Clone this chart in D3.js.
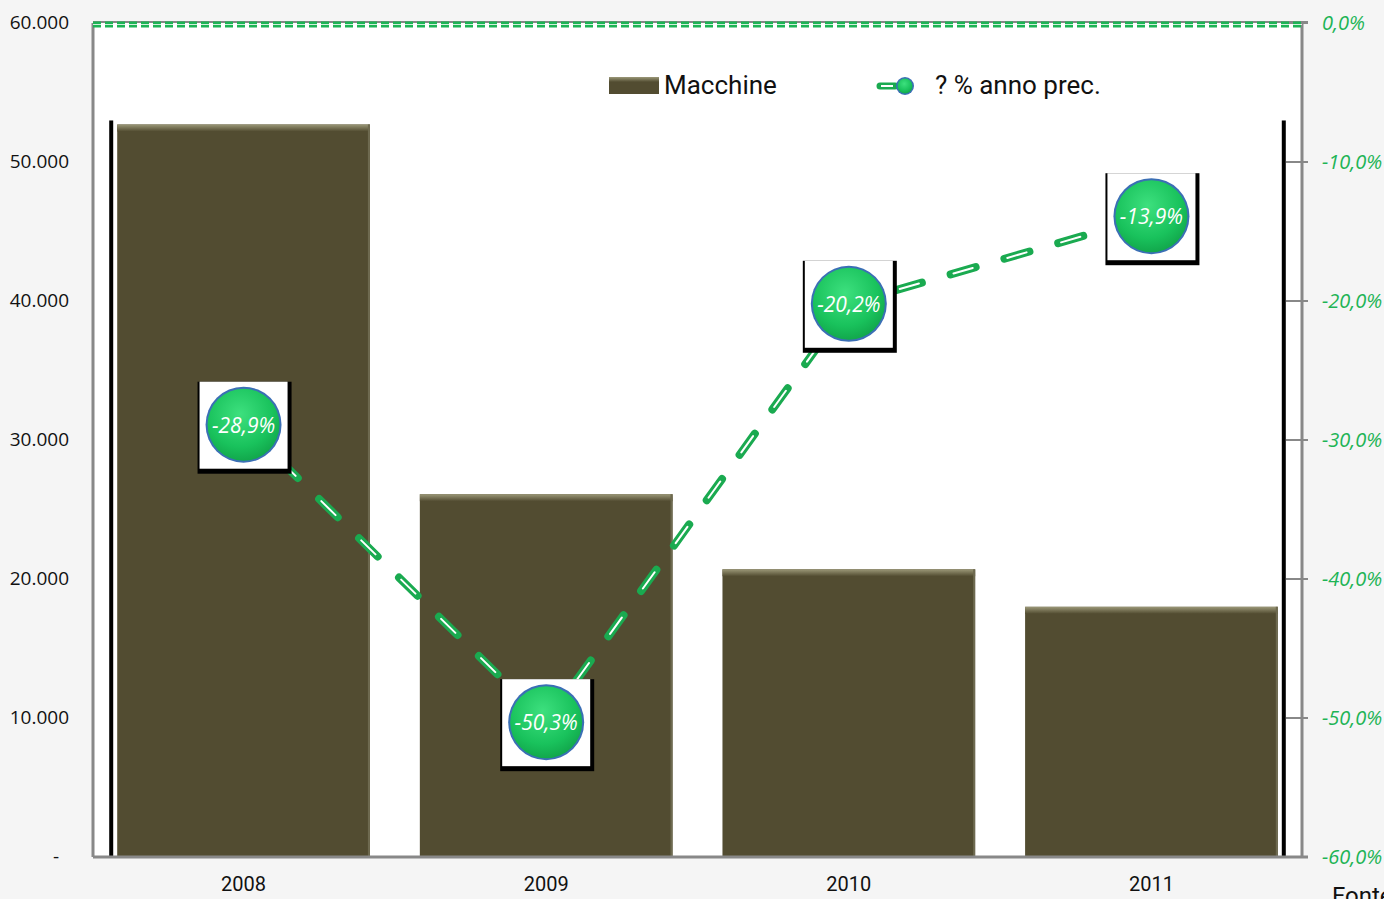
<html>
<head>
<script src="https://d3js.org/d3.v7.min.js"></script>
<style>
  body { margin: 0; background: #f5f5f5; overflow: hidden; }
  .ylab { font-family: "Liberation Sans Narrow", "Open Sans", sans-serif; font-size: 19px; fill: #111; }
  .xlab { font-family: "Liberation Sans Narrow", "Roboto", sans-serif; font-size: 20px; fill: #111; }
  .rlab { font-family: "Liberation Sans Narrow", "Open Sans", sans-serif; font-size: 20px; font-style: italic; fill: #1db455; }
  .leg { font-family: "Liberation Sans Narrow", "Roboto", sans-serif; font-size: 26px; fill: #111; }
  .mlab { font-family: "Liberation Sans Narrow", "Open Sans", sans-serif; font-size: 21px; font-style: italic; fill: #fff; }
</style>
</head>
<body>
<svg id="chart" width="1384" height="899"></svg>
<script>
// dati
const years = ["2008", "2009", "2010", "2011"];
const macchine = [52700, 26100, 20700, 18000];
const varPerc = [-28.9, -50.3, -20.2, -13.9];
const leftTicks = [0, 10000, 20000, 30000, 40000, 50000, 60000];
const rightTicks = [0, -10, -20, -30, -40, -50, -60];

const svg = d3.select("#chart");
const margin = { top: 23, right: 82, bottom: 42, left: 93 };
const W = 1384, H = 899;
const innerW = W - margin.left - margin.right;
const innerH = H - margin.top - margin.bottom;

const defs = svg.append("defs");
const grad = defs.append("linearGradient").attr("id", "barTop").attr("x1", 0).attr("y1", 0).attr("x2", 0).attr("y2", 1);
grad.append("stop").attr("offset", "0%").attr("stop-color", "#9b9878");
grad.append("stop").attr("offset", "100%").attr("stop-color", "#524c31");
const rg = defs.append("radialGradient").attr("id", "ball").attr("cx", "45%").attr("cy", "35%").attr("r", "65%");
rg.append("stop").attr("offset", "0%").attr("stop-color", "#3de07e");
rg.append("stop").attr("offset", "70%").attr("stop-color", "#19c25c");
rg.append("stop").attr("offset", "100%").attr("stop-color", "#12a84c");

const g = svg.append("g").attr("transform", "translate(" + margin.left + "," + margin.top + ")");

const x = d3.scaleBand().domain(years).range([0, innerW]).paddingInner(0.165).paddingOuter(0.08);
const y = d3.scaleLinear().domain([0, 60000]).range([innerH, 0]);
const y2 = d3.scaleLinear().domain([-60, 0]).range([innerH, 0]);

// plot area
g.append("rect").attr("width", innerW).attr("height", innerH).attr("fill", "#fff");

// bars
const bars = g.selectAll(".bar").data(years).enter().append("g");
bars.append("rect")
  .attr("x", d => x(d)).attr("y", (d, i) => y(macchine[i]))
  .attr("width", x.bandwidth()).attr("height", (d, i) => innerH - y(macchine[i]))
  .attr("fill", "#524c31");
bars.append("rect")
  .attr("x", d => x(d)).attr("y", (d, i) => y(macchine[i]))
  .attr("width", x.bandwidth()).attr("height", 7)
  .attr("fill", "url(#barTop)");
bars.append("rect")
  .attr("x", d => x(d) + x.bandwidth() - 2).attr("y", (d, i) => y(macchine[i]))
  .attr("width", 2).attr("height", (d, i) => innerH - y(macchine[i]))
  .attr("fill", "#6e6a50");

// black vertical strokes at the sides
const sideTop = y(macchine[0]) - 4;
[x(years[0]) - 8, x(years[3]) + x.bandwidth() + 4].forEach(px => {
  g.append("rect").attr("x", px).attr("y", sideTop).attr("width", 4)
    .attr("height", innerH - sideTop).attr("fill", "#000");
});

// axes frame
g.append("line").attr("x1", 0).attr("x2", 0).attr("y1", 0).attr("y2", innerH).attr("stroke", "#888").attr("stroke-width", 3);
g.append("line").attr("x1", innerW).attr("x2", innerW).attr("y1", 0).attr("y2", innerH).attr("stroke", "#888").attr("stroke-width", 3);
g.append("line").attr("x1", 0).attr("x2", innerW + 6).attr("y1", innerH).attr("y2", innerH).attr("stroke", "#888").attr("stroke-width", 3);
g.append("line").attr("x1", 0).attr("x2", innerW + 6).attr("y1", -1).attr("y2", -1).attr("stroke", "#888").attr("stroke-width", 2);

// right axis ticks
g.selectAll(".rt").data(rightTicks).enter().append("line")
  .attr("x1", innerW - 16).attr("x2", innerW + 6)
  .attr("y1", d => y2(d)).attr("y2", d => y2(d))
  .attr("stroke", "#888").attr("stroke-width", 2);

// top dotted green line (0%)
g.append("line").attr("x1", 0).attr("x2", innerW).attr("y1", y2(0) + 1.5).attr("y2", y2(0) + 1.5)
  .attr("stroke", "#1db455").attr("stroke-width", 6).attr("stroke-dasharray", "8 4");
g.append("line").attr("x1", 0).attr("x2", innerW).attr("y1", y2(0) + 1.5).attr("y2", y2(0) + 1.5)
  .attr("stroke", "#fff").attr("stroke-width", 1).attr("opacity", 0.8);

// left labels
g.selectAll(".ylab").data(leftTicks).enter().append("text")
  .attr("class", "ylab").attr("x", -24).attr("y", d => y(d) + 6)
  .attr("text-anchor", "end")
  .text(d => d === 0 ? "-" : d3.format(",")(d).replace(/,/g, "."))
  .attr("dx", d => d === 0 ? -10 : 0);

// right labels
g.selectAll(".rlab").data(rightTicks).enter().append("text")
  .attr("class", "rlab").attr("x", innerW + 20).attr("y", d => y2(d) + 7)
  .text(d => d3.format(".1f")(d).replace(".", ",").replace("−", "-") + "%");

// x labels
g.selectAll(".xlab").data(years).enter().append("text")
  .attr("class", "xlab").attr("x", d => x(d) + x.bandwidth() / 2).attr("y", innerH + 34)
  .attr("text-anchor", "middle").text(d => d);

// dashed line
const pts = years.map((d, i) => [x(d) + x.bandwidth() / 2, y2(varPerc[i])]);
const lineGen = d3.line();
for (let i = 0; i < pts.length - 1; i++) {
  const a = pts[i], b = pts[i + 1];
  const dx = b[0] - a[0], dy = b[1] - a[1];
  const len = Math.sqrt(dx * dx + dy * dy);
  const ux = dx / len, uy = dy / len;
  const p0 = [a[0] + ux * 50, a[1] + uy * 50];
  const p1 = [b[0] - ux * 50, b[1] - uy * 50];
  g.append("path").attr("d", lineGen([p0, p1])).attr("fill", "none")
    .attr("stroke", "#1aaa50").attr("stroke-width", 8).attr("stroke-linecap", "round")
    .attr("stroke-dasharray", "26 30");
  g.append("path").attr("d", lineGen([p0, p1])).attr("fill", "none")
    .attr("stroke", "#fff").attr("stroke-width", 2).attr("stroke-linecap", "round")
    .attr("stroke-dasharray", "20 36").attr("stroke-dashoffset", -3);
}

// markers
const mk = g.selectAll(".mk").data(pts).enter().append("g")
  .attr("transform", d => "translate(" + d[0] + "," + d[1] + ")");
mk.append("rect").attr("x", -46).attr("y", -43).attr("width", 94).attr("height", 92).attr("fill", "#000");
mk.append("rect").attr("x", -44).attr("y", -43).attr("width", 88).attr("height", 87).attr("fill", "#fff");
mk.append("circle").attr("r", 38).attr("fill", "#3b6fb5");
mk.append("circle").attr("r", 36).attr("fill", "url(#ball)");
mk.append("text").attr("class", "mlab").attr("text-anchor", "middle").attr("y", 8)
  .text((d, i) => d3.format(".1f")(varPerc[i]).replace(".", ",").replace("−", "-") + "%");

// legend
const leg = svg.append("g");
leg.append("rect").attr("x", 609).attr("y", 77).attr("width", 50).attr("height", 17).attr("fill", "#524c31");
leg.append("rect").attr("x", 609).attr("y", 77).attr("width", 50).attr("height", 5).attr("fill", "url(#barTop)");
leg.append("text").attr("class", "leg").attr("x", 664).attr("y", 94).text("Macchine");
leg.append("line").attr("x1", 880).attr("x2", 895).attr("y1", 86).attr("y2", 86)
  .attr("stroke", "#1aaa50").attr("stroke-width", 7).attr("stroke-linecap", "round");
leg.append("line").attr("x1", 881).attr("x2", 893).attr("y1", 86).attr("y2", 86)
  .attr("stroke", "#fff").attr("stroke-width", 2);
leg.append("circle").attr("cx", 905).attr("cy", 86).attr("r", 9).attr("fill", "#3b6fb5");
leg.append("circle").attr("cx", 905).attr("cy", 86).attr("r", 7.5).attr("fill", "url(#ball)");
leg.append("text").attr("class", "leg").attr("x", 935).attr("y", 94).text("? % anno prec.");

// "Fonte" is cut off at the edge in the original too
svg.append("text").attr("x", 1332).attr("y", 904).attr("font-family", "Liberation Sans Narrow, Roboto, sans-serif")
  .attr("font-size", 24).attr("fill", "#111").text("Fonte");
</script>
</body>
</html>
